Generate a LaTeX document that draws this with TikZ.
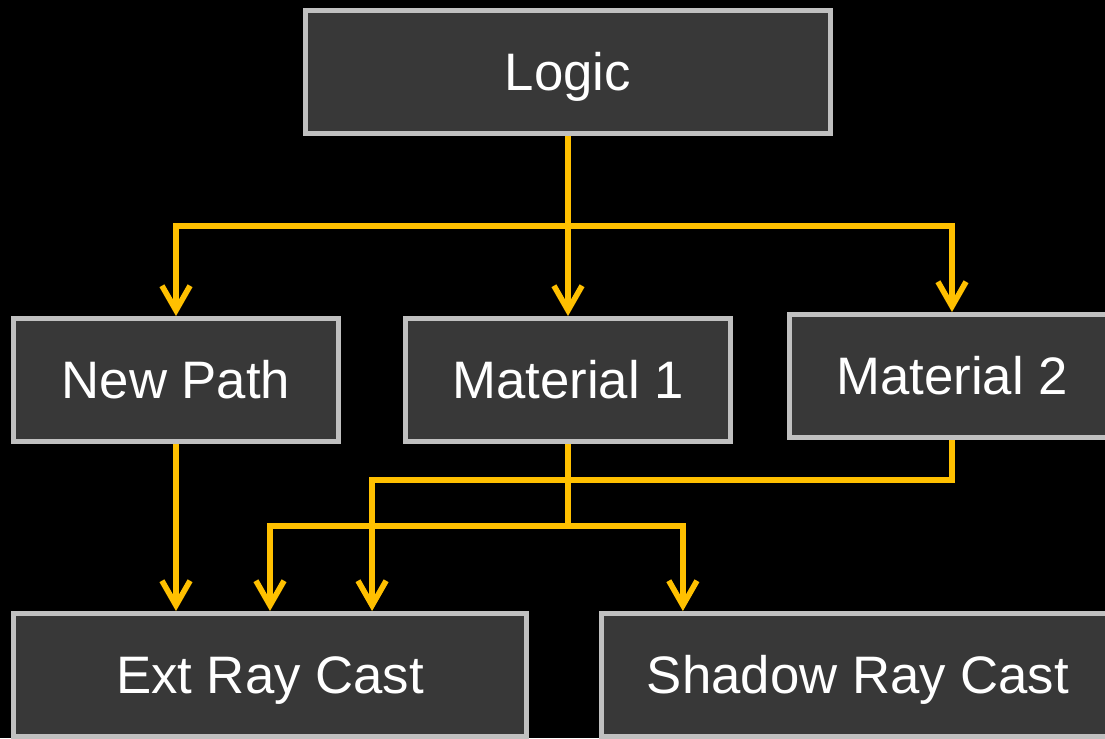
\documentclass[tikz,border=0pt]{standalone}
\usepackage{fontspec}
\setmainfont{Liberation Sans}
\usetikzlibrary{arrows.meta}
\definecolor{boxfill}{HTML}{383838}
\definecolor{boxline}{HTML}{C0C0C0}
\definecolor{wire}{HTML}{FFC000}

\begin{document}
\begin{tikzpicture}[x=0.01cm,y=-0.01cm]
      \tikzstyle stage=[draw=boxline, fill=boxfill, line width=1.4pt,
      text=white, font=\fontsize{15}{18}\selectfont, inner sep=0pt,
      text height=13.6pt, text depth=3.2pt]
      \tikzstyle link=[draw=wire, line width=1.6pt,
      -{Straight Barb[length=7pt,width=8pt,line width=1.6pt]}]
      \fill [black] (0,0) rectangle (1105,738);
      \clip (0,0) rectangle (1105,738);
      \node [stage, minimum width=5.25cm, minimum height=1.23cm] (logic) at (568,72) {Logic};
      \node [stage, minimum width=3.24cm, minimum height=1.23cm] (newpath) at (176,380) {New Path};
      \node [stage, minimum width=3.25cm, minimum height=1.23cm] (mat1) at (568,380) {Material 1};
      \node [stage, minimum width=3.25cm, minimum height=1.23cm] (mat2) at (952,376) {Material 2};
      \node [stage, minimum width=5.13cm, minimum height=1.23cm] (ext) at (270,675) {Ext Ray Cast};
      \node [stage, minimum width=5.13cm, minimum height=1.23cm] (shadow) at (858,675) {Shadow Ray Cast};
      \coordinate (split) at (568,226);
      \coordinate (join1) at (568,526);
      \coordinate (join2) at (952,480);
      \draw [link] (logic.south) -- (mat1.north);
      \draw [link] (split) -| (newpath.north);
      \draw [link] (split) -| (mat2.north);
      \draw [link] (newpath.south) -- (newpath.south |- ext.north);
      \draw [link] (mat1.south) -- (join1) -| (ext.north);
      \draw [link] (join1) -| ([xshift=-1.75cm]shadow.north);
      \draw [link] (mat2.south) -- (join2) -| ([xshift=1.02cm]ext.north);
\end{tikzpicture}
\end{document}
